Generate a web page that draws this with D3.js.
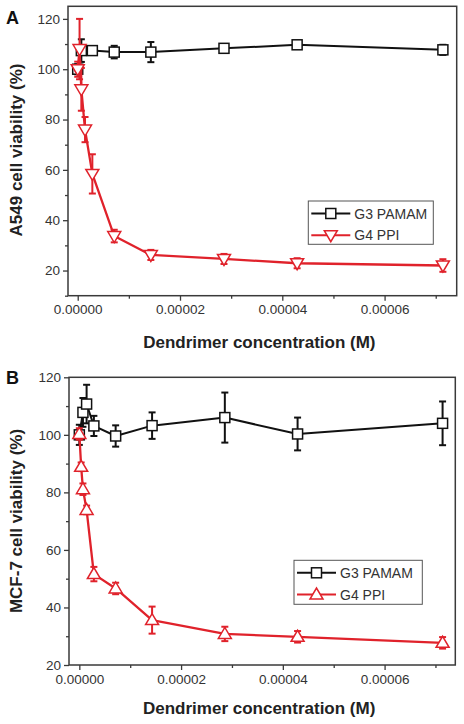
<!DOCTYPE html>
<html><head><meta charset="utf-8">
<script src="https://cdn.jsdelivr.net/npm/d3@7"></script>
<style>html,body{margin:0;padding:0;background:#fff;}svg{display:block;font-family:"Liberation Sans",Arial,sans-serif;}</style>
</head><body>
<svg id="chart" width="464" height="724"></svg>
<script>
// ---------- data ----------
const xTicks = [0, 0.00002, 0.00004, 0.00006];
const xTickLabels = ["0.00000", "0.00002", "0.00004", "0.00006"];
const xMinorTicks = [0.00001, 0.00003, 0.00005, 0.00007];
const yTicks = [20, 40, 60, 80, 100, 120];
const yMinorTicksA = [10, 30, 50, 70, 90, 110];
const yMinorTicksB = [30, 50, 70, 90, 110];
const seriesNames = ["G3 PAMAM", "G4 PPI"];

// Panel A (A549)
const pamamA_x = [0, 7.1e-7, 2.86e-6, 7.14e-6, 1.43e-5, 2.86e-5, 4.29e-5, 7.14e-5];
const pamamA_y = [100, 107.4, 107.4, 106.8, 106.8, 108.3, 109.7, 107.7];
const pamamA_err = [2, 4.5, 1.5, 2.5, 4, 1.5, 1.5, 2];
const ppiA_x = [0, 3.6e-7, 7.1e-7, 1.43e-6, 2.86e-6, 7.14e-6, 1.43e-5, 2.86e-5, 4.29e-5, 7.14e-5];
const ppiA_y = [100, 108, 92, 76, 58.4, 33.7, 26.2, 24.6, 22.9, 22];
const ppiA_err = [3, 12, 8.5, 5, 7.8, 2.5, 2, 2, 2, 2.5];

// Panel B (MCF-7)
const pamamB_x = [0, 7.1e-7, 1.43e-6, 2.86e-6, 7.14e-6, 1.43e-5, 2.86e-5, 4.29e-5, 7.14e-5];
const pamamB_y = [100, 107.8, 110.7, 103.1, 99.6, 103.2, 106, 100.3, 104];
const pamamB_err = [3.5, 5, 6.7, 3.5, 3.7, 4.6, 8.7, 5.7, 7.6];
const ppiB_x = [0, 3.6e-7, 7.1e-7, 1.43e-6, 2.86e-6, 7.14e-6, 1.43e-5, 2.86e-5, 4.29e-5, 7.14e-5];
const ppiB_y = [100.3, 88.9, 81.1, 73.9, 51.6, 46.6, 35.6, 30.8, 29.8, 27.7];
const ppiB_err = [2, 1.5, 2, 1.5, 2.5, 2, 4.7, 2.5, 2, 2];

// ---------- drawing ----------
const BLACK = "#111", RED = "#e0222b", FRAME = "#3a3a3a", TXT = "#333";
const svg = d3.select("#chart");

function panel(cfg) {
  const g = svg.append("g");
  const x = d3.scaleLinear().domain(cfg.xDomain).range([cfg.left, cfg.right]);
  const y = d3.scaleLinear().domain(cfg.yDomain).range([cfg.bottom, cfg.top]);

  // axes
  const xAxis = d3.axisBottom(x).tickValues(xTicks).tickFormat((d, i) => xTickLabels[i]).tickSize(5).tickPadding(4);
  const xa = g.append("g").attr("transform", `translate(0,${cfg.bottom})`).call(xAxis);
  const xm = g.append("g").attr("transform", `translate(0,${cfg.bottom})`).call(d3.axisBottom(x).tickValues(xMinorTicks).tickFormat("").tickSize(3));
  const yAxis = d3.axisLeft(y).tickValues(yTicks).tickSize(5).tickPadding(3);
  const ya = g.append("g").attr("transform", `translate(${cfg.left},0)`).call(yAxis);
  const ym = g.append("g").attr("transform", `translate(${cfg.left},0)`).call(d3.axisLeft(y).tickValues(cfg.yMinor).tickFormat("").tickSize(3));
  [xa, xm, ya, ym].forEach(a => {
    a.select(".domain").remove();
    a.selectAll("line").attr("stroke", FRAME).attr("stroke-width", 1.3);
    a.selectAll("text").attr("fill", TXT).style("font-size", "13.5px");
  });

  // frame
  g.append("rect").attr("x", cfg.left).attr("y", cfg.top)
    .attr("width", cfg.right - cfg.left).attr("height", cfg.bottom - cfg.top)
    .attr("fill", "none").attr("stroke", FRAME).attr("stroke-width", 1.5);

  const line = d3.line().x(d => x(d[0])).y(d => y(d[1]));

  function series(xs, ys, es, color, marker, lw) {
    const pts = xs.map((v, i) => [v, ys[i], es[i]]);
    g.append("path").datum(pts).attr("d", line).attr("fill", "none")
      .attr("stroke", color).attr("stroke-width", lw).attr("stroke-linejoin", "round");
    const eb = g.append("g").attr("stroke", color).attr("stroke-width", 2);
    pts.forEach(p => {
      const cx = x(p[0]), y1 = y(p[1] + p[2]), y2 = y(p[1] - p[2]);
      eb.append("line").attr("x1", cx).attr("x2", cx).attr("y1", y1).attr("y2", y2);
      eb.append("line").attr("x1", cx - 3.5).attr("x2", cx + 3.5).attr("y1", y1).attr("y2", y1);
      eb.append("line").attr("x1", cx - 3.5).attr("x2", cx + 3.5).attr("y1", y2).attr("y2", y2);
    });
    const mg = g.append("g");
    pts.forEach(p => drawMarker(mg, marker, x(p[0]), y(p[1]), color));
  }

  series(cfg.pamam[0], cfg.pamam[1], cfg.pamam[2], BLACK, "square", 2);
  series(cfg.ppi[0], cfg.ppi[1], cfg.ppi[2], RED, cfg.triangle, 2.3);

  // legend
  const L = cfg.legend;
  g.append("rect").attr("x", L.x).attr("y", L.y).attr("width", L.w).attr("height", L.h)
    .attr("fill", "#fff").attr("stroke", "#555").attr("stroke-width", 1);
  const rows = [[BLACK, "square"], [RED, cfg.triangle]];
  rows.forEach((r, i) => {
    const ry = L.y + 12.5 + i * 21.7;
    g.append("line").attr("x1", L.x + 3).attr("x2", L.x + 42).attr("y1", ry).attr("y2", ry)
      .attr("stroke", r[0]).attr("stroke-width", 2);
    drawMarker(g, r[1], L.x + 22.5, ry, r[0]);
    g.append("text").attr("x", L.x + 46).attr("y", ry).attr("dy", "0.36em")
      .attr("fill", TXT).style("font-size", "14px").text(seriesNames[i]);
  });

  // titles
  g.append("text").attr("x", (cfg.left + cfg.right) / 2 - 3).attr("y", cfg.xTitleY)
    .attr("text-anchor", "middle").style("font-size", "17px").style("font-weight", "bold")
    .attr("fill", "#222").text("Dendrimer concentration (M)");
  g.append("text").attr("transform", `translate(22,${cfg.yTitleC}) rotate(-90)`)
    .attr("text-anchor", "middle").style("font-size", "17px").style("font-weight", "bold")
    .attr("fill", "#222").text(cfg.yTitle);
  g.append("text").attr("x", 6).attr("y", cfg.letterY).style("font-size", "18px")
    .style("font-weight", "bold").attr("fill", "#111").text(cfg.letter);
}

function drawMarker(g, type, cx, cy, color) {
  if (type === "square") {
    g.append("rect").attr("x", cx - 5).attr("y", cy - 5).attr("width", 10).attr("height", 10)
      .attr("fill", "#fff").attr("stroke", color).attr("stroke-width", 1.5);
  } else if (type === "down") {
    g.append("path").attr("d", `M${cx - 6.5},${cy - 4.5}L${cx + 6.5},${cy - 4.5}L${cx},${cy + 6.5}Z`)
      .attr("fill", "#fff").attr("stroke", color).attr("stroke-width", 1.5);
  } else {
    g.append("path").attr("d", `M${cx - 6.5},${cy + 4.5}L${cx + 6.5},${cy + 4.5}L${cx},${cy - 6.5}Z`)
      .attr("fill", "#fff").attr("stroke", color).attr("stroke-width", 1.5);
  }
}

panel({
  left: 68, right: 456.7, top: 6.3, bottom: 295.7,
  xDomain: [-0.0000019, 0.0000741], yDomain: [10, 125],
  yMinor: yMinorTicksA,
  pamam: [pamamA_x, pamamA_y, pamamA_err], ppi: [ppiA_x, ppiA_y, ppiA_err],
  triangle: "down",
  legend: {x: 308.3, y: 201, w: 125, h: 43.3},
  xTitleY: 347.5, yTitleC: 150, yTitle: "A549 cell viability (%)",
  letter: "A", letterY: 24
});
panel({
  left: 69, right: 455.3, top: 377.3, bottom: 665,
  xDomain: [-0.00000203, 0.0000739], yDomain: [20, 120],
  yMinor: yMinorTicksB,
  pamam: [pamamB_x, pamamB_y, pamamB_err], ppi: [ppiB_x, ppiB_y, ppiB_err],
  triangle: "up",
  legend: {x: 294, y: 560.3, w: 128.3, h: 44},
  xTitleY: 714, yTitleC: 521, yTitle: "MCF-7 cell viability (%)",
  letter: "B", letterY: 384
});
</script>
</body></html>
